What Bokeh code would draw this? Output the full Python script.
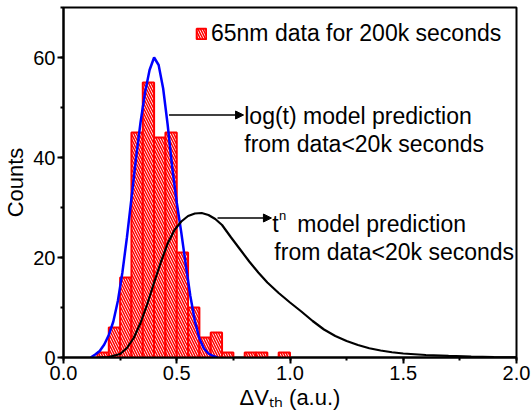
from bokeh.plotting import figure
from bokeh.models import (Range1d, SingleIntervalTicker, Label, Arrow, NormalHead,
                          Legend, LegendItem, ColumnDataSource, CustomJSTickFormatter)
from bokeh.embed import file_html
from bokeh.resources import INLINE

# ---- data ----
bin_left = [0.15, 0.20, 0.25, 0.30, 0.35, 0.40, 0.45, 0.50, 0.55, 0.60,
            0.65, 0.70, 0.75, 0.80, 0.85, 0.90, 0.95]
counts = [1, 6, 16, 45, 55, 44, 45, 21, 10, 4, 5, 1, 0, 1, 1, 0, 1]
bin_width = 0.05

logt_x = [0.12, 0.14, 0.16, 0.18, 0.20, 0.22, 0.24, 0.26, 0.28, 0.30, 0.32, 0.34,
          0.36, 0.38, 0.40, 0.42, 0.44, 0.46, 0.48, 0.50, 0.52, 0.54, 0.56, 0.58,
          0.60, 0.62, 0.64, 0.66, 0.68]
logt_y = [0.0, 0.6, 1.3, 2.6, 4.5, 7.2, 11.3, 17.0, 24.0, 31.8, 39.8, 47.0,
          53.0, 57.5, 60.0, 58.5, 53.8, 46.5, 38.0, 31.0, 25.0, 18.5, 12.3, 7.3,
          3.8, 1.8, 0.8, 0.3, 0.0]

tn_x = [0.15, 0.20, 0.25, 0.28, 0.31, 0.34, 0.37, 0.40, 0.43, 0.46, 0.49, 0.52,
        0.55, 0.58, 0.61, 0.64, 0.67, 0.70, 0.74, 0.78, 0.82, 0.86, 0.90, 0.95,
        1.00, 1.05, 1.10, 1.15, 1.20, 1.25, 1.30, 1.35, 1.40, 1.45, 1.50, 1.60,
        1.70, 1.80, 1.90, 2.00]
tn_y = [0.0, 0.1, 0.7, 1.9, 3.9, 6.9, 10.7, 15.0, 19.1, 22.8, 25.5, 27.2,
        28.3, 28.8, 28.9, 28.5, 27.7, 26.5, 24.0, 21.6, 19.2, 17.0, 15.0, 12.9,
        11.0, 9.2, 7.3, 5.6, 4.3, 3.3, 2.5, 1.85, 1.4, 1.05, 0.8, 0.5,
        0.32, 0.18, 0.08, 0.02]

legend_label = "65nm data for 200k seconds"
x_label = "\u0394V\u209c\u2095 (a.u.)"
y_label = "Counts"
x_ticks_interval = 0.5
y_ticks_interval = 20

# ---- figure ----
NARROW = "'Liberation Sans Narrow', 'Liberation Sans', Arial, sans-serif"
SANS = "Liberation Sans"

p = figure(width=531, height=412, output_backend="svg", toolbar_location=None,
           x_range=Range1d(0, 2.0), y_range=Range1d(0, 70),
           min_border_left=63, min_border_right=15, min_border_top=7,
           min_border_bottom=55)
p.xgrid.visible = False
p.ygrid.visible = False
p.outline_line_color = "black"
p.outline_line_width = 2
p.background_fill_color = "white"
p.border_fill_color = "white"

p.xaxis.ticker = SingleIntervalTicker(interval=x_ticks_interval, num_minor_ticks=2)
p.yaxis.ticker = SingleIntervalTicker(interval=y_ticks_interval, num_minor_ticks=2)
for ax in (p.xaxis, p.yaxis):
    ax.axis_line_width = 2
    ax.axis_line_color = "black"
    ax.major_tick_line_width = 2
    ax.minor_tick_line_width = 2
    ax.major_tick_in = 0
    ax.major_tick_out = 6
    ax.minor_tick_in = 0
    ax.minor_tick_out = 3
    ax.major_label_text_font = NARROW
    ax.major_label_text_font_size = "20px"
    ax.major_label_text_color = "black"
    ax.major_label_standoff = 2
    ax.axis_label_text_font_style = "normal"
    ax.axis_label_text_color = "black"
p.xaxis.formatter = CustomJSTickFormatter(code="return tick.toFixed(1);")

p.yaxis.axis_label = y_label
p.yaxis.axis_label_text_font = NARROW
p.yaxis.axis_label_text_font_size = "22px"
p.yaxis.axis_label_standoff = 2

p.xaxis.axis_label = x_label
p.xaxis.axis_label_text_font = SANS
p.xaxis.axis_label_text_font_size = "22px"
p.xaxis.axis_label_standoff = 2

# histogram
lefts = [l for l, c in zip(bin_left, counts) if c > 0]
tops = [c for c in counts if c > 0]
src = ColumnDataSource(dict(left=lefts, right=[l + bin_width for l in lefts],
                            top=tops, bottom=[0] * len(tops)))
bars = p.quad(left="left", right="right", top="top", bottom="bottom", source=src,
              fill_color="white", line_color="#ff0000", line_width=2,
              hatch_pattern="left_diagonal_line", hatch_color="#ff0000",
              hatch_scale=5, hatch_weight=1.5)

p.line(logt_x, logt_y, line_color="#0000ff", line_width=2.5)
p.line(tn_x, tn_y, line_color="black", line_width=2.2)

# legend
legend = Legend(items=[LegendItem(label=legend_label, renderers=[bars])],
                location=(132, 310), padding=0, margin=0, spacing=0,
                glyph_width=12, glyph_height=13, label_standoff=4,
                label_text_font=SANS, label_text_font_size="23px",
                label_text_color="black",
                border_line_color=None, background_fill_alpha=0)
p.add_layout(legend, "center")

# annotations
def txt(x, y, s, size="23px"):
    lab = Label(x=x, y=y, text=s, text_font=SANS, text_font_size=size,
                text_color="black", text_baseline="alphabetic", text_align="left")
    p.add_layout(lab)

p.add_layout(Arrow(end=NormalHead(size=8, fill_color="black", line_color="black"),
                   x_start=0.466, y_start=48.5, x_end=0.795, y_end=48.5,
                   line_width=1.6, line_color="black"))
txt(0.798, 48.4, "log(t) model prediction")
txt(0.798, 42.7, "from data<20k seconds")

p.add_layout(Arrow(end=NormalHead(size=8, fill_color="black", line_color="black"),
                   x_start=0.680, y_start=27.9, x_end=0.918, y_end=27.9,
                   line_width=1.6, line_color="black"))
txt(0.922, 26.7, "t")
txt(0.951, 28.4, "n", size="13px")
txt(1.032, 26.7, "model prediction")
txt(0.931, 21.1, "from data<20k seconds")

open("out.html", "w").write(file_html(p, INLINE))
